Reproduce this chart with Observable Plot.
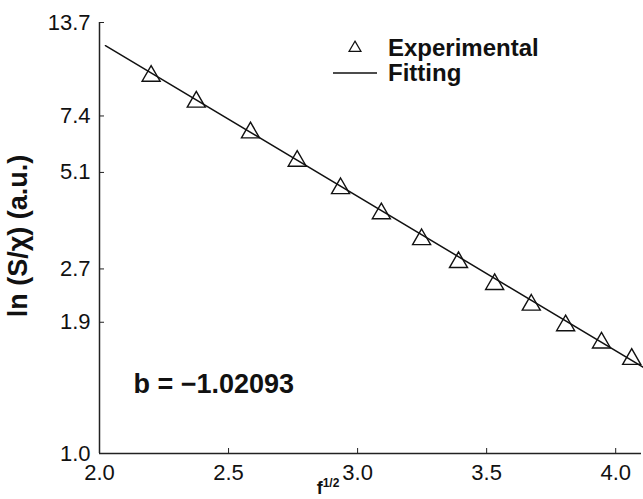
<!DOCTYPE html>
<html><head><meta charset="utf-8">
<script src="https://cdn.jsdelivr.net/npm/d3@7"></script>
<script src="https://cdn.jsdelivr.net/npm/@observablehq/plot@0.6"></script>
<style>body{margin:0;background:#fff} svg{font-family:"Liberation Sans",Arial,sans-serif}</style>
</head><body><div id="chart"></div>
<script>
// x tick labels
const xTicks = [2.0, 2.5, 3.0, 3.5, 4.0];
// y tick positions (ln axis) and the labels printed at them
const yTickValues = [0.8, 1.9, 2.7, 5.1, 7.4, 13.7];
const yTickLabels = ["1.0", "1.9", "2.7", "5.1", "7.4", "13.7"];
// experimental points: f^(1/2) and S/chi (plotted on ln axis)
const fHalf = [2.200, 2.375, 2.585, 2.766, 2.934, 3.092, 3.248, 3.391, 3.531, 3.673, 3.806, 3.945, 4.062];
const ratio = [9.63, 8.12, 6.63, 5.50, 4.59, 3.89, 3.28, 2.82, 2.44, 2.13, 1.86, 1.66, 1.49];
// fitting line end points
const fitX = [2.023, 4.109];
const fitY = [11.76, 1.41];
const slopeText = "b = \u22121.02093";
const legendLabels = ["Experimental", "Fitting"];

const points = fHalf.map((x, i) => ({x, y: ratio[i]}));
const fit = fitX.map((x, i) => ({x, y: fitY[i]}));
const font = "Liberation Sans, Arial, sans-serif";

const chart = Plot.plot({
  width: 643, height: 499,
  marginLeft: 99, marginRight: 2, marginTop: 22, marginBottom: 46,
  style: {fontFamily: font, fontSize: "22px", color: "#111", background: "#fff", overflow: "visible"},
  x: {domain: [2, 4.1]},
  y: {type: "log", domain: [0.8, 13.7]},
  marks: [
    Plot.axisX({ticks: xTicks, tickSize: -5, tickPadding: 16, tickFormat: d3.format(".1f"), label: null, fontSize: 22, stroke: "#222"}),
    Plot.axisY({ticks: yTickValues, tickSize: -5, tickPadding: 14, tickFormat: (d) => yTickLabels[yTickValues.indexOf(d)], label: null, fontSize: 22, stroke: "#222"}),
    Plot.ruleX([2], {stroke: "#222", strokeWidth: 1.5}),
    Plot.ruleY([0.8], {stroke: "#222", strokeWidth: 1.5}),
    Plot.line(fit, {x: "x", y: "y", stroke: "#111", strokeWidth: 1.5}),
    Plot.dot(points, {x: "x", y: "y", symbol: "triangle", r: 6.7, stroke: "#111", strokeWidth: 1.4, fill: "none"}),
    Plot.text([slopeText], {frameAnchor: "bottom-left", dx: 34, dy: -61, fontWeight: "bold", fontSize: 27, fill: "#111"})
  ]
});
document.getElementById("chart").appendChild(chart);

const svg = d3.select(chart);
// y title
svg.append("text")
  .attr("transform", "translate(27,236) rotate(-90)")
  .attr("text-anchor", "middle")
  .attr("font-weight", "bold").attr("font-size", 27).attr("fill", "#111")
  .text("ln (S/\u03c7) (a.u.)");
// x title with superscript
const xt = svg.append("text")
  .attr("x", 328).attr("y", 494)
  .attr("text-anchor", "middle")
  .attr("font-weight", "bold").attr("font-size", 18).attr("fill", "#111");
xt.append("tspan").text("f");
xt.append("tspan").attr("font-size", 12).attr("dy", -7).text("1/2");
// legend
const lg = svg.append("g").attr("text-anchor", "start");
lg.append("path").attr("d", d3.symbol(d3.symbolTriangle, 62)()).attr("transform", "translate(355,48)")
  .attr("fill", "none").attr("stroke", "#111").attr("stroke-width", 1.2);
lg.append("text").attr("x", 388).attr("y", 56).attr("font-weight", "bold").attr("font-size", 24).attr("fill", "#111").text(legendLabels[0]);
lg.append("line").attr("x1", 333).attr("x2", 377).attr("y1", 73).attr("y2", 73).attr("stroke", "#111").attr("stroke-width", 1.5);
lg.append("text").attr("x", 388).attr("y", 81).attr("font-weight", "bold").attr("font-size", 24).attr("fill", "#111").text(legendLabels[1]);
</script></body></html>
